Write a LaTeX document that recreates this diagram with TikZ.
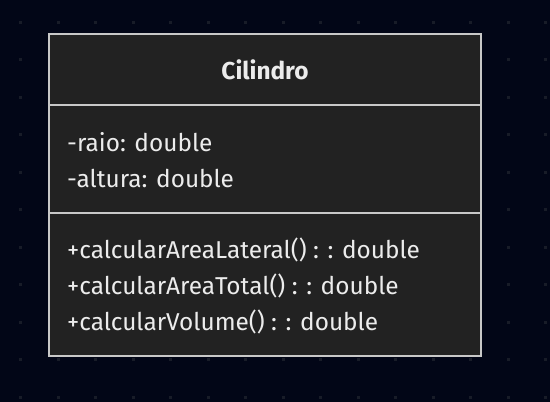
\documentclass[tikz,border=0pt]{standalone}
\usepackage{fontspec}
\setmainfont{Fira Sans}
\usepackage{xcolor}
\usetikzlibrary{positioning,calc}

\definecolor{bgdark}{HTML}{020617}
\definecolor{griddot}{HTML}{181C28}
\definecolor{boxfill}{HTML}{222222}
\definecolor{boxline}{HTML}{C8C8C8}
\definecolor{txt}{HTML}{ECECEC}

\begin{document}
\begin{tikzpicture}[x=1pt, y=-1pt,
    classbox/.style={draw=boxline, fill=boxfill, line width=1.5pt},
    sep/.style={draw=boxline, line width=1.5pt},
    title/.style={text=txt, font=\fontsize{24.4}{28}\selectfont\bfseries, inner sep=0pt},
    member/.style={text=txt, font=\fontsize{24.4}{28}\selectfont, anchor=west, inner sep=0pt}]

    % background and dot grid
    \fill[bgdark] (0,0) rectangle (550,402);
    \useasboundingbox (0,0) rectangle (550,402);
    \foreach \i in {0,...,14}
        \foreach \j in {0,...,10}
            \fill[griddot] ({20.5+37.5*\i-1.5},{22+37.5*\j-1.5}) rectangle ++(3,3);

    % class box
    \draw[classbox] (49,34) rectangle (481,356);
    \draw[sep] (49,105) -- (481,105);
    \draw[sep] (49,213) -- (481,213);

    \node[title] (name) at (265,70) {Cilindro};

    \node[member] (raio) at (67,142) {-raio: double};
    \node[member] (altura) at (67,178) {-altura: double};

    \node[member] (lateral) at (67,250) {+calcularAreaLateral() : : double};
    \node[member] (total) at (67,286) {+calcularAreaTotal() : : double};
    \node[member] (volume) at (67,322) {+calcularVolume() : : double};
\end{tikzpicture}
\end{document}
